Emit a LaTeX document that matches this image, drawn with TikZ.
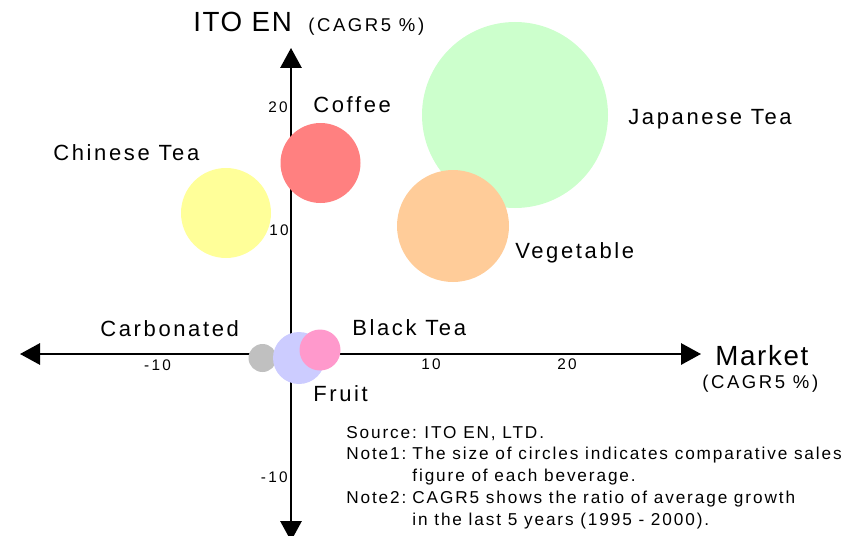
\documentclass[tikz,border=0pt]{standalone}
\usepackage{fontspec}
\setmainfont{Liberation Sans}
\newfontfamily\drinkfont[LetterSpace=12]{Liberation Sans}
\newfontfamily\titlefont[LetterSpace=6]{Liberation Sans}
\newfontfamily\unitfont[LetterSpace=14]{Liberation Sans}
\newfontfamily\tickfont[LetterSpace=15]{Liberation Sans}
\newfontfamily\notefont[LetterSpace=11]{Liberation Sans}
\usetikzlibrary{arrows.meta}

\definecolor{japanesetea}{HTML}{CCFFCC}
\definecolor{vegetable}{HTML}{FFCC99}
\definecolor{chinesetea}{HTML}{FFFF99}
\definecolor{coffee}{HTML}{FF8080}
\definecolor{carbonated}{HTML}{C0C0C0}
\definecolor{fruit}{HTML}{CCCCFF}
\definecolor{blacktea}{HTML}{FF99CC}

\tikzset{
  axis/.style={line width=1.5pt, {Triangle[length=15pt,width=16pt]}-{Triangle[length=15pt,width=16pt]}},
  bubble/.style={circle, inner sep=0pt, minimum size=#1*1.5pt},
  drink/.style={anchor=base west, inner sep=0pt, font=\drinkfont\fontsize{16.5}{20}\selectfont},
  title/.style={anchor=base west, inner sep=0pt, font=\titlefont\fontsize{20.8}{24}\selectfont},
  unit/.style={anchor=base west, inner sep=0pt, font=\unitfont\fontsize{13.9}{16}\selectfont},
  tick/.style={inner sep=0pt, font=\tickfont\fontsize{11.5}{13}\selectfont},
  note/.style={anchor=base west, inner sep=0pt, font=\notefont\fontsize{12.9}{16.35}\selectfont}
}

\begin{document}
\begin{tikzpicture}[x=0.75pt, y=-0.75pt]
        \useasboundingbox (0,0) rectangle (852,535);
        \clip (0,0) rectangle (852,535);

        % Eixos
        \coordinate (west) at (20,354);
        \coordinate (east) at (701,354);
        \coordinate (north) at (291,48);
        \coordinate (south) at (291,541);
        \draw[axis] (west) -- (east);
        \draw[axis] (south) -- (north);

        % Escalas
        \node[tick, anchor=base] (xm10) at (157.5,370) {-10};
        \node[tick, anchor=base] (x10) at (431,369) {10};
        \node[tick, anchor=base] (x20) at (567,369) {20};
        \node[tick, anchor=base east] (y20) at (288,112) {20};
        \node[tick, anchor=base east] (y10) at (289,235) {10};
        \node[tick, anchor=base east] (ym10) at (288,482) {-10};

        % Bebidas
        \node[bubble=93, fill=japanesetea] (jp) at (515,115) {};
        \node[bubble=56, fill=vegetable] (veg) at (453,226) {};
        \node[bubble=45, fill=chinesetea] (cn) at (226,213) {};
        \node[bubble=40, fill=coffee] (cof) at (320.5,163) {};
        \node[bubble=14, fill=carbonated] (carb) at (262.5,358) {};
        \node[bubble=26, fill=fruit] (fru) at (299,358) {};
        \node[bubble=20.5, fill=blacktea] (blk) at (320,350) {};

        % Nomes
        \node[drink] (jpName) at (628,124) {Japanese Tea};
        \node[drink] (vegName) at (515,258) {Vegetable};
        \node[drink] (cnName) at (53,160) {Chinese Tea};
        \node[drink] (cofName) at (313,112) {Coffee};
        \node[drink] (carbName) at (100,336) {Carbonated};
        \node[drink] (blkName) at (352,335) {Black Tea};
        \node[drink] (fruName) at (313,401) {Fruit};

        % Titulos dos eixos
        \node[title] (ito) at (193,32) {ITO EN};
        \node[unit] (itoUnit) at (308,32) {(CAGR5 \%)};
        \node[title] (market) at (715,365) {Market};
        \node[unit] (marketUnit) at (702,388) {(CAGR5 \%)};

        % Notas
        \node[note] (notes) at (346,438) {\begin{tabular}[t]{@{}l@{\hspace{4.5pt}}l@{}}
          \multicolumn{2}{@{}l@{}}{Source:\hspace{-1pt} ITO EN, LTD.}\\
          Note1: & The size of circles indicates comparative sales\\
                 & figure of each beverage.\\
          Note2: & CAGR5 shows the ratio of average growth\\
                 & in the last 5 years (1995 - 2000).
        \end{tabular}};
      \end{tikzpicture}
\end{document}
